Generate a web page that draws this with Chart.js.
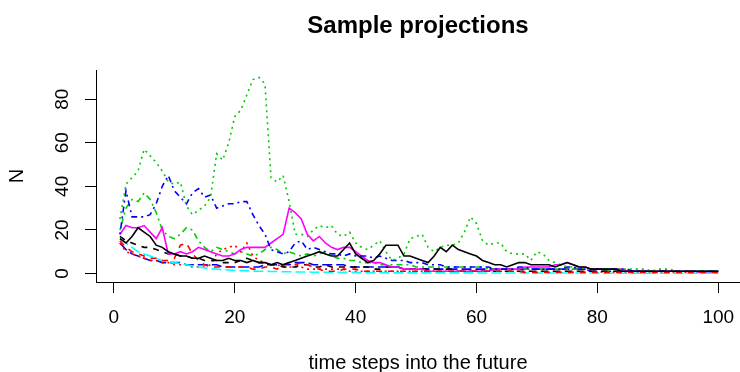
<!DOCTYPE html>
<html>
<head>
<meta charset="utf-8">
<script src="https://cdn.jsdelivr.net/npm/chart.js@4"></script>
<style>
  html, body { margin: 0; padding: 0; background: #fff; overflow: hidden; }
</style>
</head>
<body>
<canvas id="chart" width="740" height="372"></canvas>
<script>
// time steps 1..100
const steps = Array.from({ length: 100 }, (_, i) => i + 1);
const xTicks = [0, 20, 40, 60, 80, 100];
const yTicks = [0, 20, 40, 60, 80];

const sim1 = [16,14,17,21,19,17,13,12,10,9, 8,8,7,7,8,7,6,6,7,6, 6,5,6,5,5,4,5,4,5,6, 7,8,9,10,9,8,8,11,14,9,
  7,5,6,9,13,13,13,8,8,7, 6,5,8,12,10,13,11,10,9,8, 6,5,4,4,3,4,5,5,4,4, 4,4,3,4,5,4,3,3,2,2,
  2,2,2,1,1,1,1,1,1,1, 1,1,1,1,1,1,1,1,1,1];
const sim2 = [15,12,10,9,8,7,7,6,6,7, 13,14,9,6,4,3,3,3,3,3, 3,3,2,2,3,3,2,4,5,4, 5,4,3,2,1,1,1,2,2,2,
  1,1,1,1,1,1,1,1,1,1, 1,1,1,1,1,1,1,1,1,1, 1,1,1,1,1,1,1,0.5,0.5,0.5, 0.5,0.5,0.5,0.5,0.5,0.5,0.5,0.5,0.5,0.5,
  0.5,0.5,0.5,0.5,0.5,0.5,0.5,0.5,0.5,0.5, 0.5,0.5,0.5,0.5,0.5,0.5,0.5,0.5,0.5,0.5];
const sim3 = [25,41,44,47,57,54,51,47,42,41, 42,31,27,29,31,35,55,52,60,72, 75,82,89,90,87,44,42,45,33,18,
  18,17,20,22,21,22,18,17,19,14, 12,11,13,15,10,6,7,9,16,17, 18,12,10,12,13,13,14,19,26,23,
  15,13,14,14,10,9,9,9,6,10, 9,6,5,4,3,3,3,2,2,2, 2,2,2,2,2,2,2,2,1,2, 2,2,1,1,1,1,1,1,1,1];
const sim4 = [18,38,26,26,26,27,32,40,45,38, 35,32,37,39,35,36,30,31,32,32, 33,33,27,22,18,11,10,9,10,14,
  15,11,12,11,10,9,9,8,9,8, 8,8,7,8,7,6,6,6,5,5, 5,4,4,4,3,3,3,3,3,3, 3,3,2,2,2,2,3,3,2,2,
  2,2,2,2,3,3,2,2,2,2, 2,2,2,2,2,1,1,1,1,1, 1,1,1,1,1,1,1,1,1,1];
const sim5 = [16,14,12,10,9,8,7,6,5.5,5, 4.5,4,3.5,3,2.6,2.3,2,1.8,1.6,1.4, 1.3,1.2,1.1,1,1,0.9,0.9,0.8,0.8,0.7,
  0.7,0.7,0.6,0.6,0.6,0.5,0.5,0.5,0.5,0.5, 0.4,0.4,0.4,0.4,0.4,0.4,0.3,0.3,0.3,0.3, 0.3,0.3,0.3,0.3,0.3,0.3,0.3,0.3,0.3,0.3,
  0.2,0.2,0.2,0.2,0.2,0.2,0.2,0.2,0.2,0.2, 0.2,0.2,0.2,0.2,0.2,0.2,0.2,0.2,0.2,0.2, 0.1,0.1,0.1,0.1,0.1,0.1,0.1,0.1,0.1,0.1,
  0.1,0.1,0.1,0.1,0.1,0.1,0.1,0.1,0.1,0.1];
const sim6 = [18,22,21,21,22,19,16,21,9,9, 10,9,10,12,11,10,9,8,8,9, 11,12,12,12,12,14,16,18,30,28,
  25,18,15,17,14,12,11,12,12,10, 8,6,5,5,4,3,3,2,2,2, 2,1,1,1,1,1,1,1,1,1, 1,1,2,2,2,2,2,3,3,3,
  3,3,4,4,5,4,3,3,2,2, 2,2,2,2,1,1,1,1,1,1, 1,1,1,1,1,1,0.5,0.5,0.5,0.5];
const sim7 = [17,15,14,13,12,12,11,10,9,9, 8,8,7,7,6,6,6,5,5,5, 6,7,6,5,5,4,4,3,3,3, 4,4,3,3,4,3,3,3,3,3,
  3,3,2,2,3,3,3,2,2,2, 2,2,2,2,2,2,1,1,1,1, 1,1,1,1,1,1,1,1,1,1, 1,1,1,1,1,1,1,1,1,1,
  1,1,1,1,1,1,1,1,1,1, 1,1,1,1,1,1,1,1,1,1];
const sim8 = [14,10,9,8,7,6,6,5,5,4, 4,4,3,3,3,4,9,11,12,13, 10,14,8,6,5,4,4,3,3,3, 3,2,2,2,2,2,2,2,1,1,
  1,1,1,1,1,1,1,1,1,1, 1,1,1,1,1,1,1,1,1,1, 1,1,1,1,1,1,1,1,1,1, 1,1,1,1,1,1,1,1,1,1,
  0.5,0.5,0.5,0.5,0.5,0.5,0.5,0.5,0.5,0.5, 0.5,0.5,0.5,0.5,0.5,0.5,0.5,0.5,0.5,0.5];
const sim9 = [20,30,34,33,37,34,28,20,17,16, 18,21,20,15,12,10,12,11,10,9, 10,9,8,9,11,12,11,9,10,9,
  8,9,8,9,10,8,7,7,6,6, 5,5,5,4,4,4,4,4,4,3, 3,3,3,3,3,3,3,3,3,3, 3,2,2,2,2,2,2,2,2,2,
  2,2,2,2,2,2,2,2,2,2, 2,1,1,1,1,1,1,1,1,1, 1,1,1,1,1,1,1,1,1,1];
const sim10 = [14,11,9,8,7,6,6,5,5,5, 5,4,4,4,4,4,4,3,3,3, 3,3,3,3,4,4,4,4,4,5, 5,5,4,4,4,4,4,4,3,3,
  3,3,3,3,3,3,3,2,2,2, 2,2,2,2,2,2,2,2,2,2, 2,2,2,2,2,2,2,2,2,2, 2,2,2,2,2,2,2,2,1,1,
  1,1,1,1,1,1,1,1,1,1, 1,1,1,1,1,1,1,1,1,1];

const sims = [sim1, sim2, sim3, sim4, sim5, sim6, sim7, sim8, sim9, sim10];

// matplot style: col 1:6, lty 1:5
const colors = ['#000000', '#ff0000', '#00cd00', '#0000ff', '#00ffff', '#ff00ff'];
const dashes = [[], [6, 6], [2, 4], [2, 4, 6, 4], [10, 4]];

const FONT = "'Liberation Sans', Arial, sans-serif";

new Chart(document.getElementById('chart'), {
  type: 'line',
  data: {
    datasets: sims.map((values, i) => ({
      label: 'sim ' + (i + 1),
      data: values.map((v, j) => ({ x: steps[j], y: v })),
      borderColor: colors[i % 6],
      borderDash: dashes[i % 5],
      borderWidth: 1.6,
      pointRadius: 0,
      tension: 0,
      fill: false
    }))
  },
  options: {
    responsive: false,
    animation: false,
    layout: { padding: 0 },
    plugins: {
      legend: { display: false },
      tooltip: { enabled: false },
      title: {
        display: true,
        text: 'Sample projections',
        color: '#000',
        fullSize: false,
        font: { family: FONT, size: 24, weight: 'bold', lineHeight: 1 },
        padding: { top: 14, bottom: 32 }
      }
    },
    scales: {
      x: {
        type: 'linear',
        min: -2.96,
        max: 103.6,
        afterBuildTicks: s => { s.ticks = xTicks.map(v => ({ value: v })); },
        afterFit: s => { s.height = 90; s.paddingLeft = 0; s.paddingRight = 0; },
        grid: { drawOnChartArea: false, drawTicks: true, tickLength: 11, color: '#000' },
        border: { display: true, color: '#000', width: 1 },
        ticks: { color: '#000', padding: 13, maxRotation: 0, font: { family: FONT, size: 19 } },
        title: {
          display: true,
          text: 'time steps into the future',
          color: '#000',
          font: { family: FONT, size: 20, lineHeight: 1 },
          padding: { top: 0, bottom: -1 }
        }
      },
      y: {
        min: -3.9,
        max: 93.4,
        afterBuildTicks: s => { s.ticks = yTicks.map(v => ({ value: v })); },
        afterFit: s => { s.width = 96; s.paddingTop = 0; s.paddingBottom = 0; },
        grid: { drawOnChartArea: false, drawTicks: true, tickLength: 11, color: '#000' },
        border: { display: true, color: '#000', width: 1 },
        ticks: { color: '#000', padding: 12, minRotation: 90, maxRotation: 90, crossAlign: 'center',
                 font: { family: FONT, size: 19 } },
        title: {
          display: true,
          text: 'N',
          color: '#000',
          font: { family: FONT, size: 20, lineHeight: 1 },
          padding: { top: 7, bottom: 0 }
        }
      }
    }
  }
});
</script>
</body>
</html>
